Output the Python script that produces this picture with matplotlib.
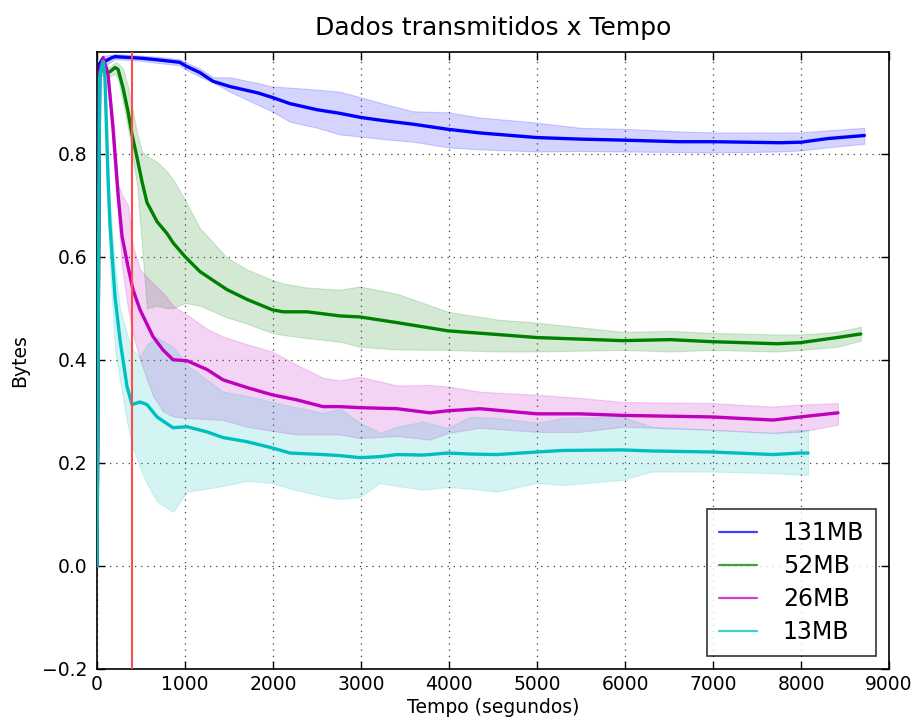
import matplotlib
matplotlib.use("Agg")
import matplotlib.pyplot as plt
import numpy as np

# ---------------- data ----------------
labels = ["131MB", "52MB", "26MB", "13MB"]
colors = ["#0000ff", "#008000", "#bf00bf", "#00bfbf"]

t_131 = [0, 15, 30, 60, 100, 170, 205, 300, 500, 680, 940, 1020, 1170, 1320, 1510, 1820, 1990, 2190, 2500, 2760,
         3000, 3250, 3590, 3990, 4350, 5000, 5490, 5980, 6600, 7000, 7760, 8000, 8300, 8720]
mean_131 = [0.0, 0.6, 0.975, 0.982, 0.98, 0.986, 0.988, 0.987, 0.985, 0.982, 0.977, 0.969, 0.957, 0.940, 0.930, 0.918,
            0.909, 0.897, 0.885, 0.878, 0.870, 0.864, 0.857, 0.847, 0.840, 0.831, 0.828, 0.826, 0.823, 0.823, 0.821,
            0.822, 0.829, 0.835]
upper_131 = [0.0, 0.62, 0.985, 0.99, 0.99, 0.992, 0.993, 0.992, 0.99, 0.988, 0.983, 0.976, 0.965, 0.948, 0.948, 0.937,
             0.930, 0.928, 0.924, 0.920, 0.909, 0.897, 0.882, 0.880, 0.870, 0.860, 0.850, 0.848, 0.843, 0.841, 0.841,
             0.841, 0.845, 0.850]
lower_131 = [0.0, 0.58, 0.965, 0.974, 0.97, 0.98, 0.983, 0.982, 0.98, 0.976, 0.971, 0.962, 0.949, 0.938, 0.920, 0.895,
             0.882, 0.862, 0.850, 0.837, 0.833, 0.828, 0.823, 0.812, 0.808, 0.804, 0.805, 0.804, 0.803, 0.802, 0.804,
             0.806, 0.812, 0.819]

t_52 = [0, 15, 30, 60, 100, 150, 205, 240, 295, 352, 398, 455, 511, 568, 682, 795, 864, 1000, 1170, 1477, 1705, 1989,
        2114, 2386, 2761, 2989, 3409, 3989, 4545, 5000, 5977, 6511, 6989, 7727, 7989, 8409, 8680]
mean_52 = [0.0, 0.5, 0.955, 0.963, 0.957, 0.959, 0.967, 0.963, 0.928, 0.882, 0.837, 0.792, 0.746, 0.705, 0.668, 0.645,
           0.627, 0.600, 0.571, 0.536, 0.517, 0.497, 0.493, 0.493, 0.485, 0.483, 0.472, 0.456, 0.449, 0.443, 0.437,
           0.439, 0.435, 0.431, 0.433, 0.443, 0.450]
upper_52 = [0.0, 0.52, 0.965, 0.973, 0.967, 0.969, 0.977, 0.975, 0.965, 0.93, 0.89, 0.84, 0.804, 0.795, 0.784, 0.765,
            0.75, 0.71, 0.655, 0.598, 0.575, 0.555, 0.548, 0.54, 0.536, 0.542, 0.528, 0.493, 0.478, 0.472, 0.454,
            0.456, 0.452, 0.449, 0.449, 0.454, 0.464]
lower_52 = [0.0, 0.48, 0.945, 0.953, 0.947, 0.949, 0.955, 0.945, 0.90, 0.85, 0.80, 0.74, 0.62, 0.50, 0.505, 0.50,
            0.50, 0.51, 0.505, 0.482, 0.47, 0.452, 0.448, 0.442, 0.435, 0.425, 0.42, 0.419, 0.416, 0.416, 0.419,
            0.416, 0.419, 0.416, 0.419, 0.425, 0.437]

t_26 = [0, 15, 30, 70, 125, 182, 240, 284, 352, 409, 489, 636, 750, 864, 1023, 1250, 1432, 1705, 1989, 2273, 2568,
        2761, 2989, 3409, 3784, 3989, 4352, 5000, 5489, 5977, 6989, 7682, 7989, 8420]
mean_26 = [0.0, 0.5, 0.96, 0.986, 0.953, 0.850, 0.720, 0.64, 0.581, 0.536, 0.497, 0.445, 0.419, 0.400, 0.398, 0.381,
           0.361, 0.346, 0.332, 0.322, 0.309, 0.309, 0.307, 0.305, 0.297, 0.301, 0.305, 0.295, 0.295, 0.292, 0.289,
           0.283, 0.289, 0.297]
upper_26 = [0.0, 0.52, 0.97, 0.99, 0.965, 0.87, 0.74, 0.72, 0.70, 0.62, 0.575, 0.548, 0.53, 0.505, 0.487, 0.46, 0.445,
            0.43, 0.416, 0.39, 0.365, 0.36, 0.367, 0.35, 0.351, 0.348, 0.338, 0.332, 0.326, 0.318, 0.316, 0.309,
            0.313, 0.316]
lower_26 = [0.0, 0.48, 0.95, 0.98, 0.94, 0.80, 0.68, 0.58, 0.50, 0.45, 0.40, 0.33, 0.30, 0.29, 0.287, 0.285, 0.283,
            0.27, 0.262, 0.255, 0.255, 0.255, 0.248, 0.252, 0.245, 0.258, 0.268, 0.26, 0.26, 0.27, 0.264, 0.258,
            0.26, 0.274]

t_13 = [0, 15, 30, 70, 90, 125, 148, 205, 261, 341, 398, 489, 568, 682, 864, 1023, 1250, 1432, 1705, 1989, 2193,
        2568, 2761, 2989, 3216, 3409, 3705, 3989, 4239, 4545, 5000, 5295, 5977, 6300, 6989, 7682, 7989, 8080]
mean_13 = [0.0, 0.5, 0.95, 0.979, 0.948, 0.753, 0.66, 0.522, 0.439, 0.348, 0.313, 0.318, 0.313, 0.289, 0.268, 0.270,
           0.260, 0.249, 0.241, 0.229, 0.219, 0.216, 0.214, 0.210, 0.212, 0.216, 0.215, 0.219, 0.217, 0.216, 0.221,
           0.224, 0.225, 0.223, 0.221, 0.216, 0.219, 0.219]
upper_13 = [0.0, 0.52, 0.96, 0.985, 0.96, 0.79, 0.70, 0.58, 0.50, 0.45, 0.42, 0.406, 0.43, 0.443, 0.425, 0.39, 0.361,
            0.338, 0.33, 0.318, 0.31, 0.297, 0.305, 0.278, 0.258, 0.27, 0.28, 0.268, 0.289, 0.287, 0.278, 0.287,
            0.289, 0.270, 0.264, 0.258, 0.264, 0.264]
lower_13 = [0.0, 0.48, 0.94, 0.97, 0.93, 0.70, 0.58, 0.42, 0.36, 0.28, 0.235, 0.19, 0.16, 0.125, 0.105, 0.144, 0.15,
            0.155, 0.165, 0.161, 0.15, 0.135, 0.13, 0.134, 0.161, 0.155, 0.148, 0.153, 0.15, 0.144, 0.161, 0.157,
            0.167, 0.183, 0.183, 0.18, 0.177, 0.177]

marker_time = 400
x_ticks = [0, 1000, 2000, 3000, 4000, 5000, 6000, 7000, 8000, 9000]
y_ticks = [-0.2, 0.0, 0.2, 0.4, 0.6, 0.8]
y_ticklabels = ["\u22120.2", "0.0", "0.2", "0.4", "0.6", "0.8"]

series = [
    (t_131, mean_131, upper_131, lower_131),
    (t_52, mean_52, upper_52, lower_52),
    (t_26, mean_26, upper_26, lower_26),
    (t_13, mean_13, upper_13, lower_13),
]

# ---------------- plot ----------------
fig = plt.figure(figsize=(9.18, 7.18), dpi=100)
ax = fig.add_axes([97 / 918, 1 - 669 / 718, (889 - 97) / 918, (669 - 52) / 718])

for (t, m, up, lo), c, lab in zip(series, colors, labels):
    ax.fill_between(t, lo, up, color=c, alpha=0.17, linewidth=0.8, zorder=2)
    ax.plot(t, m, color=c, lw=2.4, label=lab, zorder=3,
            solid_joinstyle="round", solid_capstyle="round")

ax.axvline(marker_time, color=(1.0, 0.3, 0.3), lw=1.5, zorder=4)

ax.set_xlim(0, 9000)
ax.set_ylim(-0.2, 0.997)
ax.set_xticks(x_ticks)
ax.set_yticks(y_ticks)
ax.set_yticklabels(y_ticklabels)
ax.grid(True, color="k", linestyle=(0, (1, 4)), linewidth=0.9, alpha=0.75)
ax.tick_params(direction="in", top=True, right=True, length=6, width=1, labelsize=13.5)
ax.tick_params(axis="x", pad=4)
ax.tick_params(axis="y", pad=7)
for sp in ax.spines.values():
    sp.set_linewidth(1.2)

ax.set_title("Dados transmitidos x Tempo", fontsize=18, pad=12)
ax.set_xlabel("Tempo (segundos)", fontsize=13.5, labelpad=3)
ax.set_ylabel("Bytes", fontsize=13.5, labelpad=9)

leg = ax.legend(loc="lower right", fontsize=17, frameon=True, fancybox=False, edgecolor="k",
                handlelength=1.6, handletextpad=1.1, borderpad=0.5, labelspacing=0.38,
                borderaxespad=0.55)
leg.get_frame().set_linewidth(1.2)
for lh in leg.get_lines():
    lh.set_linewidth(1.6)
    lh.set_alpha(0.75)

fig.savefig("out.png", dpi=100, facecolor="white")
